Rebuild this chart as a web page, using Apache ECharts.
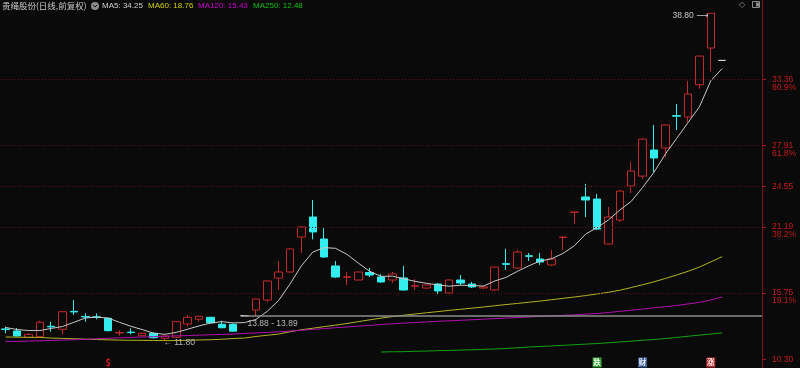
<!DOCTYPE html>
<html><head><meta charset="utf-8">
<script src="https://cdn.jsdelivr.net/npm/echarts@6/dist/echarts.min.js"></script>
<style>html,body{margin:0;padding:0;background:#0a0a0a;}#c{width:800px;height:368px;}</style>
</head><body><div id="c"></div>
<script>
// ---------------- data ----------------
const title = '贵绳股份(日线,前复权)';
const categories = Array.from({length: 67}, (_, i) => 'D' + (i + 1)); // dates not shown; 3 trailing empty slots
const opens = [12.80,12.63,12.11,12.16,13.02,12.77,14.25,13.83,13.80,13.68,
 12.47,12.54,12.24,12.44,12.03,12.11,13.21,13.60,13.76,13.18,
 13.18,13.88,14.36,15.18,16.99,17.49,20.37,22.02,20.21,17.99,
 17.05,16.83,17.45,17.08,16.83,17.00,16.32,16.17,16.50,15.76,
 16.83,16.50,16.17,16.01,18.18,17.82,18.83,18.56,18.07,20.33,
 22.40,23.67,23.50,19.80,21.77,24.58,25.39,27.54,27.71,30.37,
 30.26,32.92,35.94,34.92];
const closes = [12.75,12.22,12.36,13.35,12.97,14.22,14.20,13.79,13.75,12.66,
 12.51,12.50,12.44,12.08,12.22,13.40,13.76,13.84,13.31,12.90,
 12.62,13.88,15.27,16.75,17.49,19.39,21.20,20.79,18.73,17.08,
 17.10,17.49,17.24,16.67,17.33,16.01,16.36,16.42,15.93,16.83,
 16.58,16.26,16.26,17.90,18.12,19.14,18.78,18.31,18.56,20.37,
 22.43,23.42,21.03,22.02,24.16,25.81,28.44,26.88,29.60,30.33,
 32.15,35.28,38.80,34.92];
const lows = [12.44,12.20,12.05,12.10,12.57,12.36,13.95,13.40,13.60,12.60,
 12.24,12.36,12.20,12.00,11.80,12.05,12.99,13.40,13.25,12.85,
 12.57,13.88,13.89,15.02,16.01,17.45,19.06,20.18,18.65,17.00,
 16.42,16.80,17.08,16.59,16.59,15.95,16.01,16.10,15.68,15.70,
 16.42,16.17,16.10,15.95,17.66,17.75,18.40,18.07,18.00,19.30,
 21.45,22.02,20.95,19.75,21.61,23.99,25.14,25.72,26.96,29.19,
 29.85,32.59,34.00,34.92];
const highs = [12.99,12.88,12.45,13.48,13.40,14.25,15.18,14.09,14.09,13.72,
 12.71,12.85,12.48,12.50,12.25,13.45,13.95,13.88,13.80,13.48,
 13.25,13.88,15.30,16.80,18.40,19.45,21.25,23.42,21.11,18.40,
 17.49,17.52,17.82,17.32,17.49,17.99,16.90,16.47,16.59,16.88,
 17.24,16.67,16.30,17.95,19.39,19.30,19.06,19.06,19.30,20.40,
 22.46,24.75,23.92,22.85,24.20,26.55,28.50,29.60,29.65,31.33,
 33.22,35.30,38.80,34.92];
const ma5 = [12.92,12.75,12.67,12.67,12.84,13.00,13.35,13.70,13.78,13.70,
 13.35,13.02,12.75,12.45,12.36,12.52,12.78,13.05,13.28,13.40,
 13.30,13.32,13.58,14.25,15.15,16.50,18.00,19.13,19.50,19.44,
 18.95,18.23,17.55,17.13,17.15,16.93,16.72,16.56,16.42,16.32,
 16.40,16.38,16.33,16.75,17.05,17.55,18.00,18.40,18.58,19.02,
 19.65,20.62,21.15,21.78,22.60,23.31,24.45,25.70,27.20,28.50,
 29.80,31.10,33.25,34.25];
const ma60 = [12.14,12.12,12.11,12.10,12.05,12.02,11.99,11.96,11.93,11.90,
 11.88,11.87,11.86,11.85,11.84,11.84,11.87,11.89,11.91,11.95,
 12.01,12.05,12.18,12.28,12.38,12.57,12.73,12.86,12.99,13.11,
 13.25,13.40,13.55,13.69,13.82,13.93,14.03,14.13,14.23,14.33,
 14.42,14.51,14.61,14.71,14.81,14.90,15.00,15.10,15.21,15.32,
 15.43,15.55,15.68,15.82,15.99,16.21,16.44,16.68,16.96,17.24,
 17.55,17.90,18.32,18.76];
const ma120 = [11.76,11.77,11.80,11.82,11.85,11.88,11.91,11.95,11.99,12.03,
 12.07,12.10,12.14,12.17,12.20,12.23,12.25,12.29,12.32,12.35,
 12.38,12.43,12.47,12.51,12.57,12.63,12.69,12.76,12.83,12.90,
 12.96,13.03,13.09,13.16,13.22,13.28,13.33,13.38,13.43,13.47,
 13.51,13.56,13.60,13.65,13.70,13.74,13.79,13.83,13.88,13.92,
 13.96,14.02,14.07,14.15,14.25,14.34,14.44,14.54,14.63,14.73,
 14.86,14.99,15.18,15.43];
const ma250 = [null,null,null,null,null,null,null,null,null,null,
 null,null,null,null,null,null,null,null,null,null,
 null,null,null,null,null,null,null,null,null,null,
 null,null,null,10.90,10.92,10.93,10.96,10.98,11.01,11.03,
 11.06,11.08,11.12,11.15,11.19,11.25,11.31,11.36,11.40,11.45,
 11.50,11.55,11.60,11.66,11.73,11.79,11.87,11.93,12.01,12.10,
 12.20,12.29,12.38,12.48];
const fibLevels = [33.36, 27.91, 24.55, 21.19, 15.75, 10.30];
const fibPcts   = ['80.9%', '61.8%', '', '38.2%', '19.1%', ''];
const gapLow = 13.88, gapHigh = 13.89, gapStartIdx = 21;
const lowIdx = 14, lowVal = 11.80;
const highIdx = 62, highVal = 38.80;
const eventIdx  = [9, 52, 56, 62];
const eventText = ['$', '跌', '财', '涨'];

// ---------------- styles ----------------
const BG = '#0a0a0a';
const UP = '#c22a2a', DOWN = '#33eeee', FLAT = '#d8d8d8';
const AXIS_RED = '#7a1414', LABEL_RED = '#c41c1c', DOT_RED = '#5e1212';
const yMin = 9.583, yMax = 39.896;
const markerLevel = 10.04;
const gridRight = 38;
const eventStyle = {
  '$': {bg: 'rgba(0,0,0,0)', fg: '#e02020'},
  '跌': {bg: '#2f9a2f', fg: '#e8ffe8'},
  '财': {bg: '#3a5a8e', fg: '#e8eeff'},
  '涨': {bg: '#b22e2e', fg: '#ffe8e8'}
};
const labelFont = 'Liberation Sans, Arial, DejaVu Sans, sans-serif';

const candleData = opens.map((o, i) => {
  const v = [o, closes[i], lows[i], highs[i]];
  if (o === closes[i] && lows[i] === highs[i]) {
    return {value: v, itemStyle: {borderColor: FLAT, borderColor0: FLAT, borderColorDoji: FLAT, color: FLAT, color0: FLAT}};
  }
  return v;
});

const fibMap = {};
fibLevels.forEach((v, i) => { fibMap[v.toFixed(2)] = fibPcts[i]; });

const markLineData = fibLevels.slice(0, 5).map(v => ({
  yAxis: v,
  lineStyle: {color: DOT_RED, type: [1, 2], width: 1},
  label: {show: false}
}));
markLineData.push([
  {coord: [gapStartIdx, gapLow],
   lineStyle: {color: '#8c8c8c', type: 'solid', width: 1.5},
   label: {show: true, position: 'insideStartBottom', distance: [3, 3],
           formatter: gapLow.toFixed(2) + ' - ' + gapHigh.toFixed(2),
           color: '#b8b8b8', fontSize: 8.5, fontFamily: labelFont}},
  {coord: [categories.length - 1, gapLow], x: 800 - gridRight}
]);

const markPointData = [
  {coord: [lowIdx, lowVal], symbol: 'circle', symbolSize: 1, itemStyle: {color: 'rgba(0,0,0,0)'},
   label: {show: true, position: 'right', distance: 0, offset: [-2, 2], formatter: '← ' + lowVal.toFixed(2),
           color: '#b8b8b8', fontSize: 8.5, fontFamily: labelFont}},
  {coord: [highIdx, highVal], symbol: 'circle', symbolSize: 1, itemStyle: {color: 'rgba(0,0,0,0)'},
   label: {show: true, position: 'left', distance: 2, offset: [0, 2], formatter: highVal.toFixed(2) + ' ⟶',
           color: '#c8c8c8', fontSize: 8.5, fontFamily: labelFont}}
];
eventIdx.forEach((idx, i) => {
  const t = eventText[i], st = eventStyle[t];
  markPointData.push({
    coord: [idx, markerLevel], symbol: 'rect', symbolSize: [9, 10],
    itemStyle: {color: st.bg},
    label: {show: true, position: 'inside', formatter: t, color: st.fg, fontSize: t === '$' ? 9 : 7.5,
            fontWeight: 'bold', fontFamily: 'Noto Sans CJK SC, sans-serif'}
  });
});

const chart = echarts.init(document.getElementById('c'), null, {renderer: 'canvas'});
const last = a => a[a.length - 1];
chart.setOption({
  backgroundColor: BG,
  animation: false,
  grid: {left: 0, right: gridRight, top: 0, bottom: 0, containLabel: false, outerBoundsMode: 'none'},
  xAxis: {
    type: 'category', data: categories, boundaryGap: true,
    axisLine: {show: false}, axisTick: {show: false}, axisLabel: {show: false}, splitLine: {show: false}
  },
  yAxis: {
    type: 'value', position: 'right', min: yMin, max: yMax, scale: true,
    splitLine: {show: false},
    axisLine: {show: true, lineStyle: {color: AXIS_RED, width: 1}},
    axisTick: {show: true, inside: false, length: 4, customValues: fibLevels, lineStyle: {color: '#a01818'}},
    axisLabel: {
      show: true, customValues: fibLevels, margin: 10, color: LABEL_RED, fontSize: 8.5, lineHeight: 8,
      fontFamily: labelFont,
      formatter: v => {
        const k = Number(v).toFixed(2);
        const p = fibMap[k];
        return p ? '\n' + k + '\n' + p : k;
      }
    }
  },
  series: [
    {
      type: 'candlestick', name: 'K', data: candleData, barWidth: 8,
      itemStyle: {color: BG, color0: DOWN, borderColor: UP, borderColor0: DOWN, borderWidth: 1},
      markLine: {silent: true, symbol: ['none', 'none'], animation: false, data: markLineData},
      markPoint: {silent: true, animation: false, data: markPointData},
      z: 2
    },
    {type: 'line', name: 'MA5', data: ma5, showSymbol: false, symbol: 'none', lineStyle: {color: '#c8c8c8', width: 1}, z: 3},
    {type: 'line', name: 'MA60', data: ma60, showSymbol: false, symbol: 'none', lineStyle: {color: '#b2b224', width: 1}, z: 3},
    {type: 'line', name: 'MA120', data: ma120, showSymbol: false, symbol: 'none', lineStyle: {color: '#b010b0', width: 1}, z: 3},
    {type: 'line', name: 'MA250', data: ma250, showSymbol: false, symbol: 'none', lineStyle: {color: '#14a014', width: 1}, z: 3}
  ],
  graphic: [
    {type: 'text', x: 2, y: 6, style: {text: title, fill: '#c8c8c8', font: '8.5px "Noto Sans CJK SC", sans-serif', verticalAlign: 'middle'}},
    {type: 'circle', shape: {cx: 95, cy: 6, r: 4}, style: {fill: '#8a8a8a'}},
    {type: 'polyline', shape: {points: [[93, 5], [95, 7], [97, 5]]}, style: {stroke: '#1a1a1a', fill: null, lineWidth: 1}},
    {type: 'text', x: 102, y: 6, style: {text: 'MA5: ' + last(ma5).toFixed(2), fill: '#d0d0d0', font: '8px ' + labelFont, verticalAlign: 'middle'}},
    {type: 'text', x: 148, y: 6, style: {text: 'MA60: ' + last(ma60).toFixed(2), fill: '#d2d200', font: '8px ' + labelFont, verticalAlign: 'middle'}},
    {type: 'text', x: 198, y: 6, style: {text: 'MA120: ' + last(ma120).toFixed(2), fill: '#d000d0', font: '8px ' + labelFont, verticalAlign: 'middle'}},
    {type: 'text', x: 253, y: 6, style: {text: 'MA250: ' + last(ma250).toFixed(2), fill: '#10c010', font: '8px ' + labelFont, verticalAlign: 'middle'}},
    {type: 'text', x: 739, y: 5, style: {text: '◇', fill: '#8c8c8c', font: '8px "DejaVu Sans"', verticalAlign: 'middle'}},
    {type: 'rect', shape: {x: 752.5, y: 1.5, width: 7, height: 6}, style: {stroke: '#8c8c8c', fill: null, lineWidth: 1}},
    {type: 'rect', shape: {x: 756, y: 2.5, width: 3, height: 4}, style: {fill: '#8c8c8c'}}
  ]
});
</script>
</body></html>
